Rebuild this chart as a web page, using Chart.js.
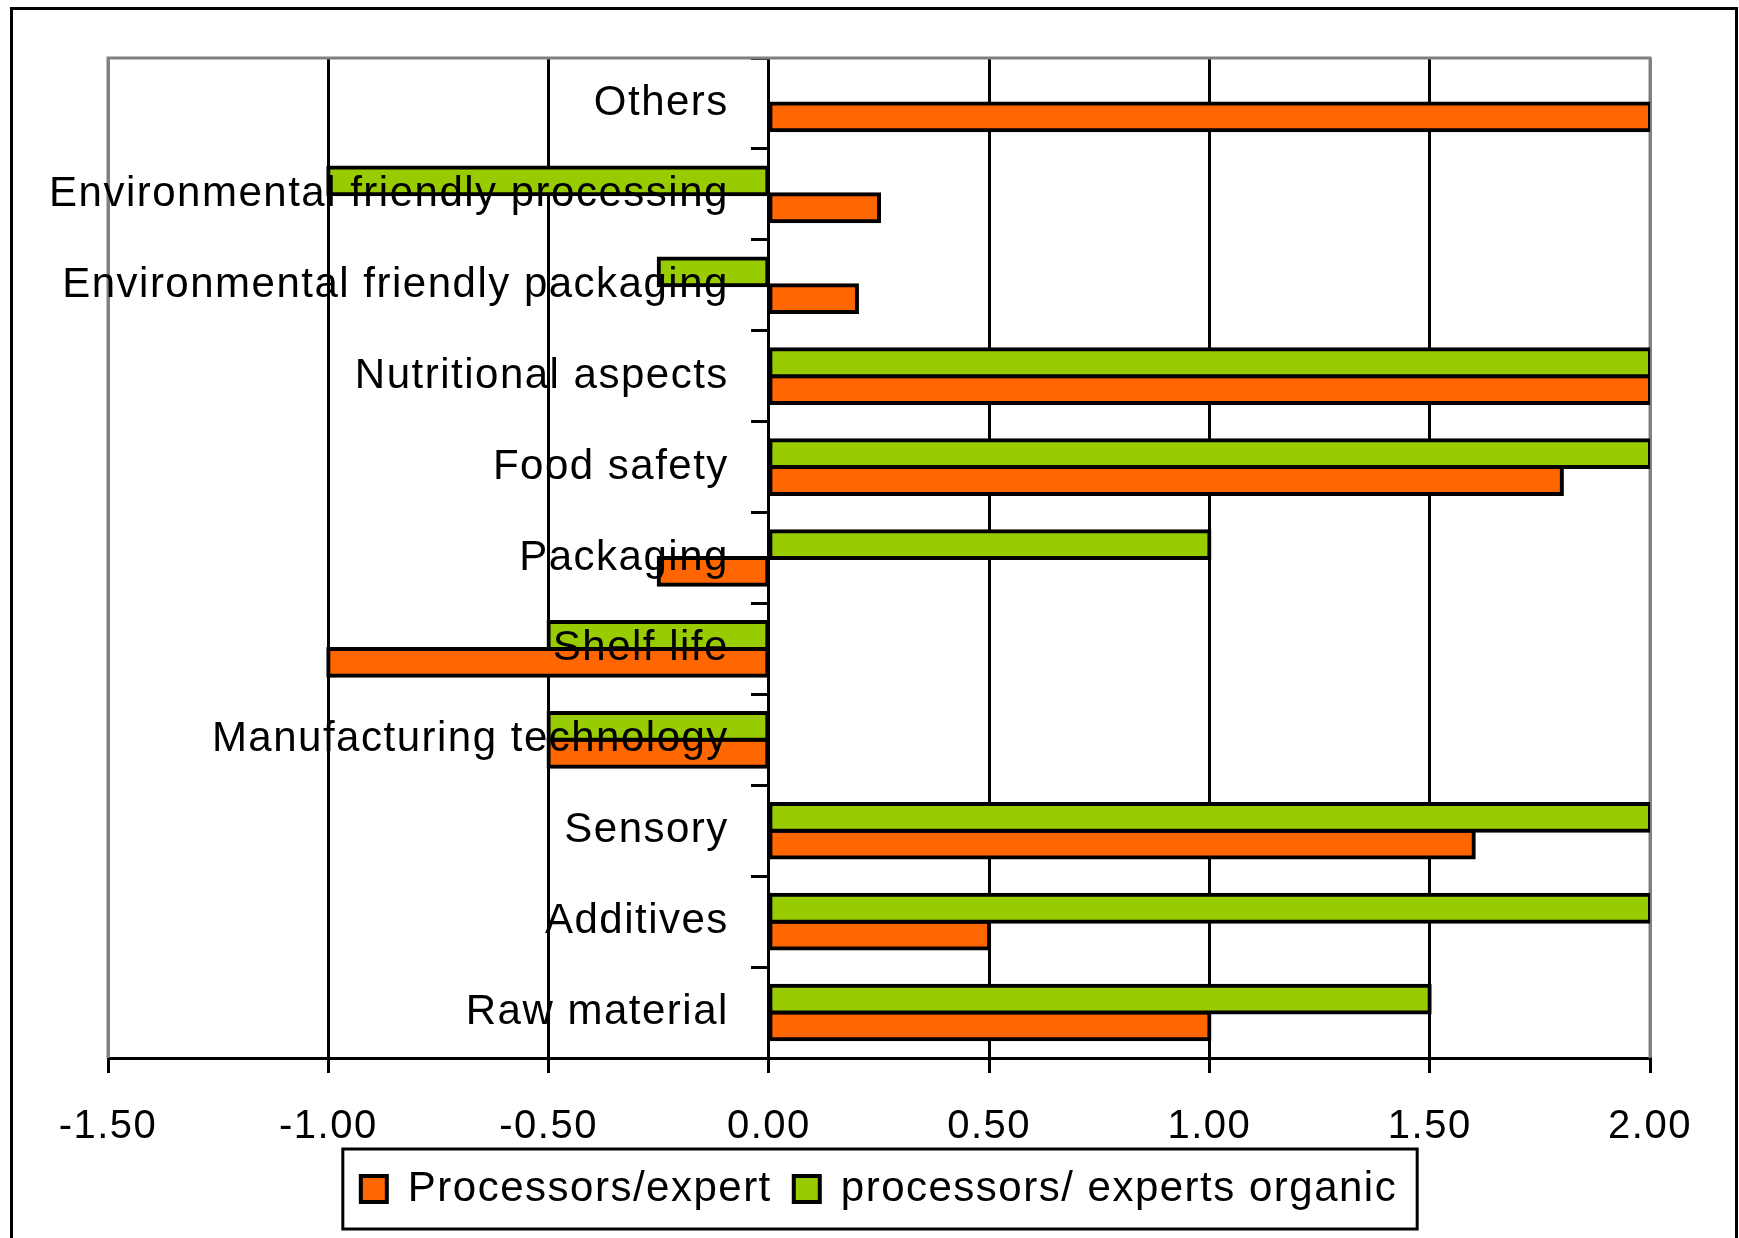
<!DOCTYPE html>
<html>
<head>
<meta charset="utf-8">
<title>Processors / experts ratings</title>
<script src="https://cdn.jsdelivr.net/npm/chart.js@4/dist/chart.umd.min.js"></script>
<style>
  html, body { margin: 0; padding: 0; background: #ffffff; }
  #wrap { width: 1739px; height: 1238px; }
</style>
</head>
<body>
<div id="wrap"><canvas id="chart" width="1739" height="1238"></canvas></div>
<script>
// Categories, listed top to bottom
const categories = [
  'Others',
  'Environmental friendly processing',
  'Environmental friendly packaging',
  'Nutritional aspects',
  'Food safety',
  'Packaging',
  'Shelf life',
  'Manufacturing technology',
  'Sensory',
  'Additives',
  'Raw material'
];

// Mean scores per category
const processorsExpert = [2.00, 0.25, 0.20, 2.00, 1.80, -0.25, -1.00, -0.50, 1.60, 0.50, 1.00];
const processorsExpertsOrganic = [null, -1.00, -0.25, 2.00, 2.00, 1.00, -0.50, -0.50, 2.00, 2.00, 1.50];

const seriesNames = ['Processors/expert', 'processors/ experts organic'];

// Value axis
const axisMin = -1.5;
const axisMax = 2.0;
const axisStep = 0.5;

const FONT = "'Liberation Sans', Arial, sans-serif";
const ORANGE = '#FF6600';
const GREEN = '#99CC00';
const GREY = '#808080';

// Layout (pixels)
const PAD = { left: 108, right: 89, top: 58, bottom: 18 };
const LABEL_GAP = 40;           // space between category labels and the zero line
const plotWidth = 1739 - PAD.left - PAD.right;
const labelAnchor = -LABEL_GAP * (axisMax - axisMin) / plotWidth;

// Wider letter spacing for all canvas text
const spacingPlugin = {
  id: 'spacing',
  beforeUpdate(chart) { chart.ctx.letterSpacing = '1.5px'; },
  beforeDraw(chart) { chart.ctx.letterSpacing = '1.5px'; }
};

// Grey plot-area frame, drawn under the bars
const plotFrame = {
  id: 'plotFrame',
  beforeDatasetsDraw(chart) {
    const a = chart.chartArea;
    const c = chart.ctx;
    c.save();
    c.strokeStyle = GREY;
    c.lineWidth = 3;
    c.beginPath();
    c.moveTo(a.left, a.bottom);
    c.lineTo(a.left, a.top);
    c.lineTo(a.right, a.top);
    c.lineTo(a.right, a.bottom);
    c.stroke();
    c.restore();
  }
};

// Black frames around the legend and the whole chart
const frames = {
  id: 'frames',
  afterDraw(chart) {
    const c = chart.ctx;
    c.save();
    c.strokeStyle = '#000000';
    c.lineWidth = 3;
    const hb = chart.legend.legendHitBoxes;
    if (hb && hb.length) {
      const first = hb[0];
      const last = hb[hb.length - 1];
      const left = Math.min(first.left, last.left) - 18;
      const right = Math.max(first.left + first.width, last.left + last.width) + 20;
      const mid = first.top + first.height / 2;
      c.strokeRect(left, mid - 40, right - left, 80);
    }
    c.strokeRect(11.5, 8.5, 1725, 1400);
    c.restore();
  }
};

new Chart(document.getElementById('chart'), {
  type: 'bar',
  data: {
    labels: categories,
    datasets: [
      {
        label: seriesNames[1],
        data: processorsExpertsOrganic,
        backgroundColor: GREEN,
        borderColor: '#000000',
        borderWidth: 4,
        inflateAmount: 2,
        borderSkipped: false
      },
      {
        label: seriesNames[0],
        data: processorsExpert,
        backgroundColor: ORANGE,
        borderColor: '#000000',
        borderWidth: 4,
        inflateAmount: 2,
        borderSkipped: false
      }
    ]
  },
  options: {
    indexAxis: 'y',
    responsive: false,
    animation: false,
    devicePixelRatio: 1,
    categoryPercentage: 0.59,
    barPercentage: 1.0,
    layout: { padding: PAD },
    plugins: {
      tooltip: { enabled: false },
      legend: {
        position: 'bottom',
        reverse: true,
        labels: {
          color: '#000000',
          font: { family: FONT, size: 42 },
          boxWidth: 26,
          boxHeight: 26,
          padding: 22
        }
      }
    },
    scales: {
      x: {
        type: 'linear',
        min: axisMin,
        max: axisMax,
        afterFit(scale) { scale.height = 88; },
        ticks: {
          stepSize: axisStep,
          color: '#000000',
          font: { family: FONT, size: 40 },
          padding: 30,
          callback: (v) => Number(v).toFixed(2)
        },
        grid: {
          color: (ctx) => (ctx.index === 0 || ctx.index === 7) ? GREY : '#000000',
          tickColor: '#000000',
          lineWidth: 3,
          tickLength: 15
        },
        border: { color: '#000000', width: 3 }
      },
      // category axis drawn along the zero line, with tick marks between categories
      y: {
        type: 'category',
        position: { x: 0 },
        offset: true,
        ticks: { display: false },
        grid: {
          offset: true,
          drawOnChartArea: false,
          drawTicks: true,
          tickLength: 16,
          color: '#000000',
          lineWidth: 3
        },
        border: { color: '#000000', width: 3 }
      },
      // category names, right-aligned just left of the zero line, on top of the bars
      yNames: {
        type: 'category',
        axis: 'y',
        labels: categories,
        position: { x: labelAnchor },
        offset: true,
        grid: { display: false, offset: true },
        border: { display: false },
        ticks: {
          z: 1,
          color: '#000000',
          font: { family: FONT, size: 42 }
        }
      }
    }
  },
  plugins: [spacingPlugin, plotFrame, frames]
});
</script>
</body>
</html>
